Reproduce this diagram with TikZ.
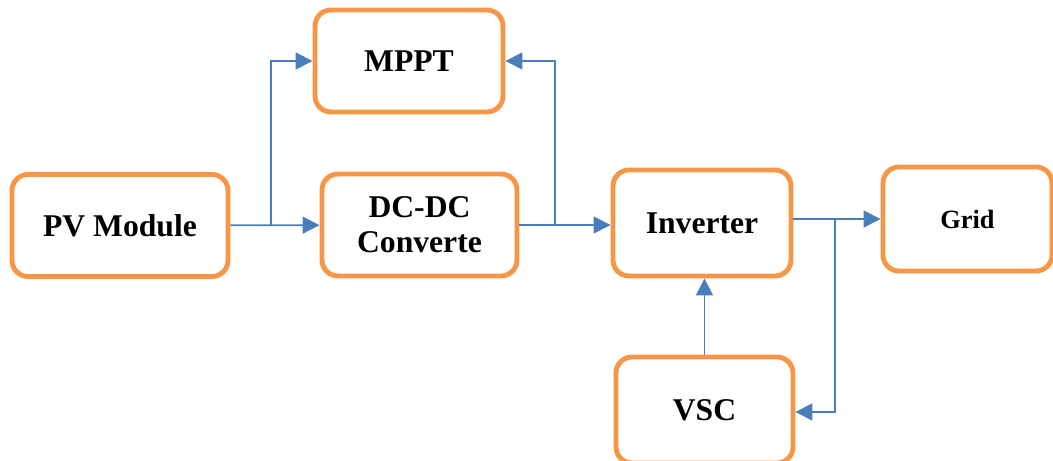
\documentclass[tikz,border=0pt]{standalone}
\usepackage{fontspec}
\setmainfont{Liberation Serif}
\usetikzlibrary{arrows.meta}

\definecolor{boxorange}{HTML}{F79646}
\definecolor{lineblue}{HTML}{4A7EBB}

\tikzset{
    block/.style={draw=boxorange,line width=2.8pt,rounded corners=0.32cm,
                  align=center,font=\fontsize{18}{20}\selectfont\bfseries},
    flow/.style={draw=lineblue,line width=1pt,
                 -{Triangle[length=0.34cm,width=0.34cm]}}
}

\begin{document}
\begin{tikzpicture}
    \useasboundingbox (0,0) rectangle (21.06,9.22);

    % Blocks
    \node[block,minimum width=4.32cm,minimum height=2.04cm] (pv) at (2.40,4.71) {PV Module};
    \node[block,minimum width=3.76cm,minimum height=2.04cm] (mppt) at (8.18,8.00) {MPPT};
    \node[block,minimum width=3.90cm,minimum height=2.04cm] (dcdc) at (8.39,4.72) {DC-DC\\Converte};
    \node[block,minimum width=3.56cm,minimum height=2.12cm] (inv) at (14.04,4.76) {Inverter};
    \node[block,minimum width=3.38cm,minimum height=2.08cm,
          font=\fontsize{15}{18}\selectfont\bfseries] (grid) at (19.35,4.84) {Grid};
    \node[block,minimum width=3.54cm,minimum height=2.12cm] (vsc) at (14.09,1.02) {VSC};

    % Branch points
    \coordinate (b1) at (5.42,4.72);
    \coordinate (b2) at (11.10,4.72);
    \coordinate (b3) at (16.70,4.84);
    \coordinate (b4) at (16.70,0.98);

    % Connectors
    \draw[flow] (pv) -- (dcdc);
    \draw[flow] (b1) |- (mppt.west);
    \draw[flow] (dcdc) -- (inv.west |- dcdc);
    \draw[flow] (b2) |- (mppt.east);
    \draw[flow] (inv.east |- grid) -- (grid);
    \draw[flow] (b3) -- (b4) -- (vsc.east |- b4);
    \draw[flow] (vsc.north) -- (vsc.north |- inv.south);
\end{tikzpicture}
\end{document}
